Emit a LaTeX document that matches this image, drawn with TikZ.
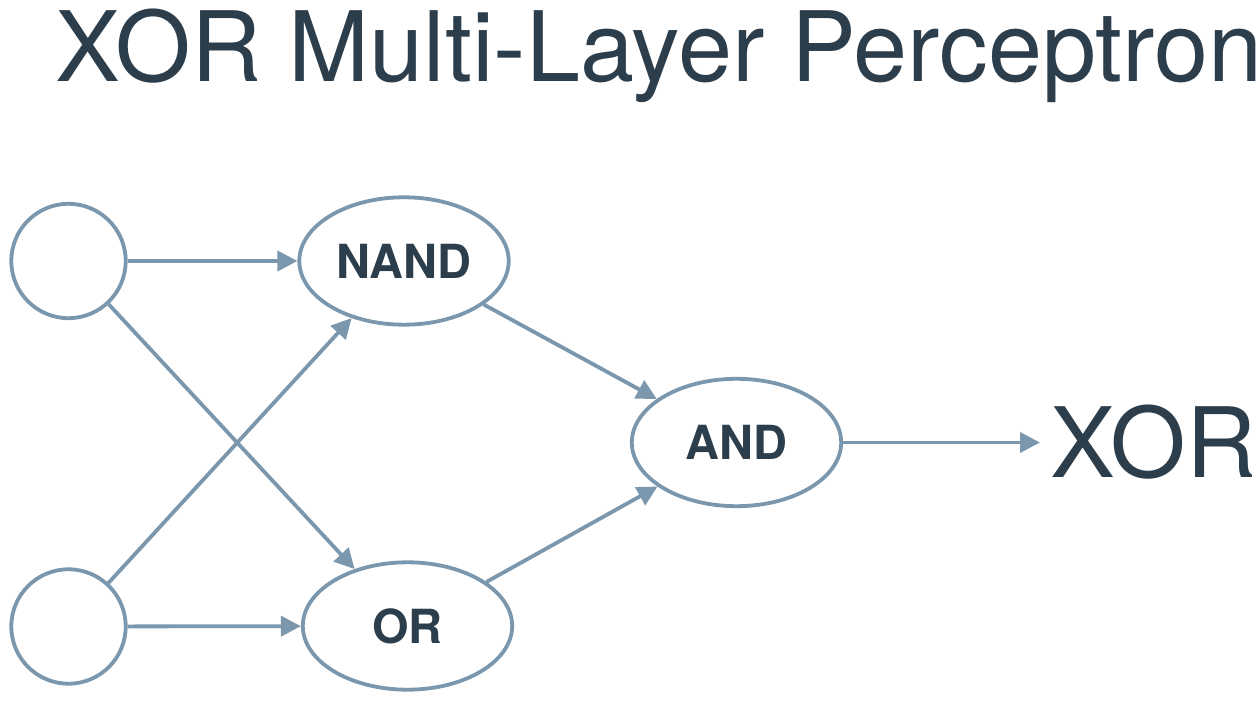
\documentclass[tikz,border=0pt]{standalone}
\usepackage{fontspec}
\setmainfont{TeX Gyre Heros}
\usetikzlibrary{shapes.geometric, arrows.meta}
\definecolor{edgeblue}{HTML}{7B97AD}
\definecolor{inkdark}{HTML}{2C3E4C}
\tikzstyle{unit} = [circle, minimum size=57.2pt, inner sep=0pt, draw=edgeblue, line width=1.9pt]
\tikzstyle{gate} = [ellipse, minimum width=104.7pt, minimum height=63.7pt, inner sep=0pt, draw=edgeblue, line width=1.9pt, text=inkdark, font=\fontsize{23.5}{28}\selectfont\bfseries]
\tikzstyle{arrow} = [draw=edgeblue, line width=1.9pt, -{Triangle[length=10pt,width=10pt]}]
\tikzstyle{bigtext} = [text=inkdark, font=\fontsize{48.6}{56}\selectfont]

\begin{document}
\begin{tikzpicture}[x=0.5pt, y=-0.5pt]
          \useasboundingbox (0,0) rectangle (1260,705);
          \node (title) [bigtext, anchor=base west, inner sep=0pt] at (55,82) {XOR Multi-Layer Perceptron}; %
          \node (in1)  [unit] at (68.5,261)   {}; %
          \node (in2)  [unit] at (68.5,626.5) {}; %
          \node (nand) [gate] at (404,261)    {NAND}; %
          \node (or)   [gate] at (407.5,626)  {OR}; %
          \node (and)  [gate] at (736.5,442.5) {AND}; %
          \node (xor)  [bigtext, anchor=west, inner sep=5pt] at (1040,442.5) {XOR}; %

          %% Connections
          \draw [arrow] (in1)  -- (nand); %
          \draw [arrow] (in1)  -- (or);   %
          \draw [arrow] (in2)  -- (nand); %
          \draw [arrow] (in2)  -- (or);   %
          \draw [arrow] (nand) -- (and);  %
          \draw [arrow] (or)   -- (and);  %
          \draw [arrow] (and.east) -- (xor.west); %
        \end{tikzpicture}
\end{document}
